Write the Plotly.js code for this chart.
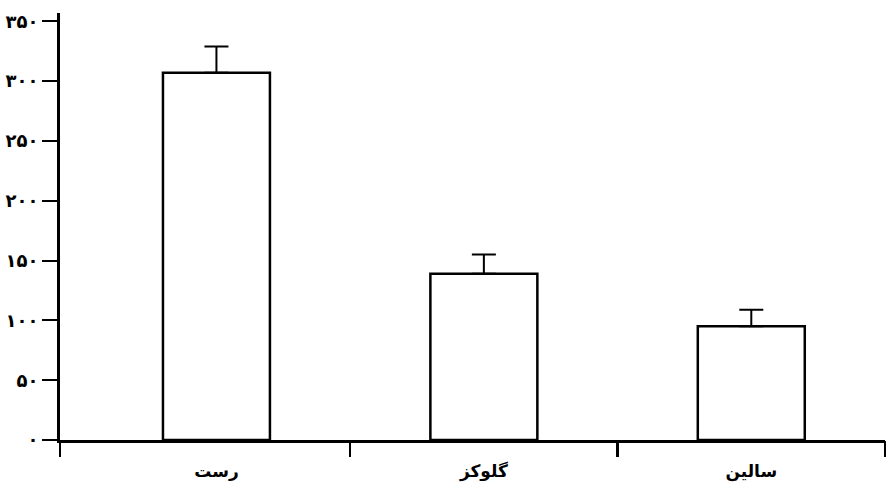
<!DOCTYPE html>
<html>
<head>
<meta charset="utf-8">
<script src="https://cdn.plot.ly/plotly-3.0.1.min.js"></script>
<style>html,body{margin:0;padding:0;background:#fff;}#chart{width:890px;height:493px;}</style>
</head>
<body>
<div id="chart"></div>
<script>
const categories = ['رست', 'گلوکز', 'سالین'];
const values = [307, 139, 95];
const errorsUp = [22, 16, 14];
const errorsDown = [0, 0, 0];
const yTickValues = [0, 50, 100, 150, 200, 250, 300, 350];
const yTickLabels = ['۰', '۵۰', '۱۰۰', '۱۵۰', '۲۰۰', '۲۵۰', '۳۰۰', '۳۵۰'];
const boundaryTicks = [-0.585, 0.5, 1.5, 2.5];

const font = 'DejaVu Sans, Noto Sans, sans-serif';
const xRange = [-0.585, 2.5];

const traces = [
  {
    type: 'bar',
    x: categories,
    y: values,
    marker: {color: '#ffffff', line: {color: '#000000', width: 2.5}},
    error_y: {type: 'data', symmetric: false, array: errorsUp, arrayminus: errorsDown,
              color: '#000000', thickness: 2, width: 12},
    hoverinfo: 'none'
  },
  {
    type: 'scatter', mode: 'markers', x: [], y: [], xaxis: 'x2', yaxis: 'y',
    showlegend: false, hoverinfo: 'none'
  }
];

const layout = {
  width: 890, height: 493,
  margin: {l: 60, r: 5, t: 13, b: 53},
  paper_bgcolor: '#ffffff', plot_bgcolor: '#ffffff',
  showlegend: false,
  bargap: 0.6,
  font: {family: font, color: '#000000'},
  xaxis: {
    type: 'category',
    range: xRange,
    showline: true, linecolor: '#000000', linewidth: 3,
    showgrid: false, zeroline: false,
    ticks: 'outside', ticklen: 14, tickcolor: 'rgba(0,0,0,0)',
    tickfont: {family: font, size: 17, color: '#000000', weight: 'bold'},
    fixedrange: true
  },
  xaxis2: {
    type: 'linear',
    overlaying: 'x', anchor: 'y', side: 'bottom',
    range: xRange,
    showline: false, showgrid: false, zeroline: false,
    tickmode: 'array', tickvals: boundaryTicks,
    ticks: 'outside', ticklen: 16, tickwidth: 2.5, tickcolor: '#000000',
    showticklabels: false,
    fixedrange: true
  },
  yaxis: {
    range: [0, 357],
    showline: true, linecolor: '#000000', linewidth: 3,
    showgrid: false, zeroline: false,
    tickmode: 'array', tickvals: yTickValues, ticktext: yTickLabels,
    ticks: 'outside', ticklen: 15, tickwidth: 2, tickcolor: '#000000',
    tickfont: {family: font, size: 18, color: '#000000', weight: 'bold'},
    fixedrange: true
  }
};

Plotly.newPlot('chart', traces, layout, {displayModeBar: false, staticPlot: true});
</script>
</body>
</html>
